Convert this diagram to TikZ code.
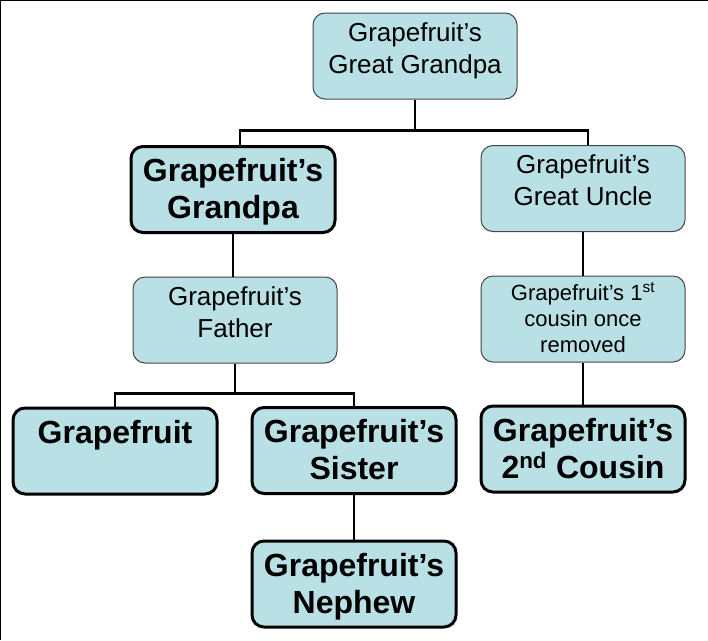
\documentclass[tikz,border=0pt]{standalone}
\usepackage{fontspec}
\setmainfont{Liberation Sans}
\definecolor{boxfill}{RGB}{185,224,228}
\definecolor{boxline}{RGB}{70,70,70}
\tikzset{
  basebox/.style={rectangle, rounded corners=12pt, fill=boxfill, inner sep=0pt, anchor=center},
  plainbox/.style={basebox, draw=boxline, line width=1pt},
  boldbox/.style={basebox, draw=black, line width=3pt},
  link/.style={draw=black, line width=2.5pt},
  frameline/.style={draw=black, line width=2pt}
}
\newcommand\normtext[2]{\parbox[t][#1][t]{204pt}{\centering\fontsize{26}{32}\selectfont\rule{0pt}{28pt}#2}}
\newcommand\boldtext[2]{\parbox[t][#1][t]{204pt}{\centering\bfseries\fontsize{32}{37}\selectfont\rule{0pt}{35pt}#2}}
\newcommand\smalltext[2]{\parbox[t][#1][t]{204pt}{\centering\fontsize{22}{26}\selectfont\rule{0pt}{24pt}#2}}
\begin{document}
\begin{tikzpicture}[x=1pt,y=-1pt]
\useasboundingbox (0,0) rectangle (708,640);
\fill[white] (0,0) rectangle (708,640);
\draw[frameline] (0,640) -- (0,0) -- (708,0);

\node[plainbox] (gg) at (415,56) {\normtext{86pt}{Grapefruit’s\\Great Grandpa}};
\node[boldbox] (gp) at (233,189.5) {\boldtext{86pt}{Grapefruit’s\\Grandpa}};
\node[plainbox] (gu) at (583,188.5) {\normtext{86pt}{Grapefruit’s\\Great Uncle}};
\node[plainbox] (fa) at (235,320) {\normtext{86pt}{Grapefruit’s\\Father}};
\node[plainbox] (co) at (583,319) {\smalltext{86pt}{Grapefruit’s 1\textsuperscript{st}\\cousin once\\removed}};
\node[boldbox] (gf) at (115,451) {\boldtext{86pt}{Grapefruit}};
\node[boldbox] (si) at (354,450.5) {\boldtext{86pt}{Grapefruit’s\\Sister}};
\node[boldbox] (ne) at (354,584) {\boldtext{86pt}{Grapefruit’s\\Nephew}};
\node[boldbox] (c2) at (583,449) {\boldtext{86pt}{Grapefruit’s\\2\textsuperscript{nd} Cousin}};

\draw[link] (gg.south) -- ++(0,31) -| ([xshift=7pt]gp.north);
\draw[link] (gg.south) -- ++(0,31) -| ([xshift=5pt]gu.north);
\draw[link] (gp.south) -- (gp.south |- fa.north);
\draw[link] (gu.south) -- (co.north);
\draw[link] (co.south) -- (c2.north);
\draw[link] (fa.south) -- ++(0,30) -| (gf.north);
\draw[link] (fa.south) -- ++(0,30) -| (si.north);
\draw[link] (si.south) -- (ne.north);
\end{tikzpicture}
\end{document}
